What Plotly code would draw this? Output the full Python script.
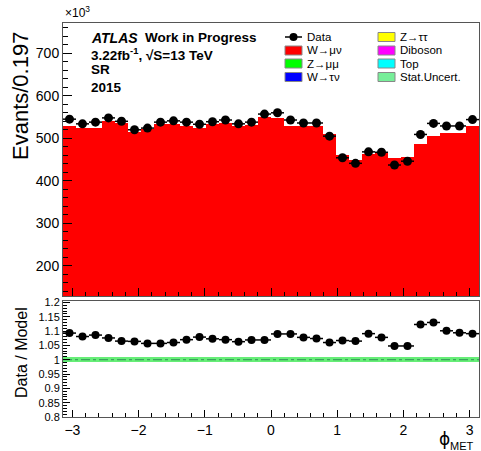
import numpy as np
import plotly.graph_objects as go

# ---- binning: 32 bins over [-pi, pi] ----
N_BINS = 32
x_lo, x_hi = -np.pi, np.pi
bin_w = (x_hi - x_lo) / N_BINS
centers = x_lo + bin_w * (np.arange(N_BINS) + 0.5)

# ---- event counts (x10^3) ----
data_counts = [545, 534, 538, 548, 540, 520, 524, 538, 541, 538, 533, 539, 543, 534, 538, 557,
               560, 543, 536, 536, 505, 454, 441, 468, 467, 437, 446, 509, 535, 529, 529, 544]
wmunu_counts = [530, 525, 525, 541, 535, 515, 521, 533, 534, 530, 524, 533, 535, 529, 531, 551,
                548, 530, 530, 530, 509, 461, 449, 462, 465, 453, 457, 486, 505, 512, 513, 530]

# ---- Data / Model ratio ----
ratio_vals = [1.093, 1.081, 1.086, 1.076, 1.065, 1.064, 1.057, 1.057, 1.060, 1.070, 1.079, 1.073,
              1.070, 1.063, 1.069, 1.069, 1.090, 1.090, 1.078, 1.074, 1.060, 1.067, 1.065, 1.091,
              1.078, 1.048, 1.048, 1.123, 1.130, 1.101, 1.094, 1.091]
stat_unc = [0.008] * N_BINS

legend_col1 = [("Data", None), ("W\u2192\u03bc\u03bd", "#ff0000"),
               ("Z\u2192\u03bc\u03bc", "#00ff00"), ("W\u2192\u03c4\u03bd", "#0000ff")]
legend_col2 = [("Z\u2192\u03c4\u03c4", "#ffff00"), ("Diboson", "#ff00ff"),
               ("Top", "#00ffff"), ("Stat.Uncert.", "#77ee99")]

# ---- canvas geometry (pixels) ----
W, H = 481, 451
L, R, T, B = 63, 2, 23, 34
PW, PH = W - L - R, H - T - B


def px(x):
    return (x - L) / PW


def py(y):
    return (H - B - y) / PH


FONT = "Liberation Sans, Arial, Helvetica, sans-serif"
FRAME = "#555555"

fig = go.Figure()

# stacked MC (W->munu dominates the stack)
fig.add_trace(go.Bar(x=centers, y=wmunu_counts, width=bin_w, marker=dict(color="#ff0000", line=dict(width=0)),
                     xaxis="x", yaxis="y", showlegend=False, hoverinfo="skip"))
# data points
fig.add_trace(go.Scatter(x=centers, y=data_counts, mode="markers",
                         marker=dict(color="black", size=9),
                         error_x=dict(type="constant", value=bin_w / 2, thickness=1.5, width=0, color="black"),
                         xaxis="x", yaxis="y", showlegend=False))

# ratio: stat band, reference line, data/model points
fig.add_trace(go.Bar(x=centers, y=[2 * u for u in stat_unc], base=[1 - u for u in stat_unc], width=bin_w,
                     marker=dict(color="#66ee77", line=dict(width=0)),
                     xaxis="x2", yaxis="y2", showlegend=False, hoverinfo="skip"))
fig.add_trace(go.Scatter(x=[x_lo, x_hi], y=[1, 1], mode="lines",
                         line=dict(color="#2f8f55", width=1, dash="dashdot"),
                         xaxis="x2", yaxis="y2", showlegend=False))
fig.add_trace(go.Scatter(x=centers, y=ratio_vals, mode="markers",
                         marker=dict(color="black", size=8),
                         error_x=dict(type="constant", value=bin_w / 2, thickness=1.5, width=0, color="black"),
                         xaxis="x2", yaxis="y2", showlegend=False))

axis_common = dict(showline=True, linecolor=FRAME, linewidth=1, mirror=True, showgrid=False,
                   zeroline=False, ticks="inside", tickcolor="black")

fig.update_layout(
    width=W, height=H,
    margin=dict(l=L, r=R, t=T, b=B, pad=0),
    paper_bgcolor="white", plot_bgcolor="white",
    barmode="overlay", bargap=0,
    font=dict(family=FONT, color="black"),
    xaxis=dict(axis_common, domain=[0, 1], anchor="y", range=[x_lo, x_hi], dtick=1, tick0=0,
               ticklen=8, showticklabels=False,
               minor=dict(dtick=0.2, tick0=0, ticklen=4, ticks="inside", tickcolor="black")),
    yaxis=dict(axis_common, domain=[py(296), 1], anchor="x", range=[128.5, 771.5], dtick=100, tick0=0,
               ticklen=9, tickfont=dict(size=14),
               minor=dict(dtick=20, ticklen=5, ticks="inside", tickcolor="black")),
    xaxis2=dict(axis_common, domain=[0, 1], anchor="y2", range=[x_lo, x_hi], dtick=1, tick0=0,
                ticklen=7, tickfont=dict(size=14),
                minor=dict(dtick=0.2, tick0=0, ticklen=4, ticks="inside", tickcolor="black")),
    yaxis2=dict(axis_common, domain=[0, py(301)], anchor="x2", range=[0.8, 1.205],
                tickvals=[0.8, 0.85, 0.9, 0.95, 1.0, 1.05, 1.1, 1.15, 1.2],
                ticktext=["0.8", "0.85", "0.9", "0.95", "1", "1.05", "1.1", "1.15", "1.2"],
                ticklen=7, tickfont=dict(size=11),
                minor=dict(dtick=0.01, tick0=0, ticklen=4, ticks="inside", tickcolor="black")),
)

ann = []
shapes = []


def text(x, y, s, size, xanchor="left", yanchor="middle", angle=0, family=FONT):
    ann.append(dict(x=px(x), y=py(y), xref="paper", yref="paper", text=s, showarrow=False,
                    xanchor=xanchor, yanchor=yanchor, textangle=angle,
                    font=dict(family=family, size=size, color="black")))


# axis titles
text(21, 96, "Evants/0.197", 22, xanchor="center", angle=-90)
text(21, 353, "Data / Model", 16, xanchor="center", angle=-90)
text(63, 12, "\u00d710<sup>3</sup>", 12)
text(452, 439, "\u03d5", 17, xanchor="right", family="DejaVu Sans")
text(476, 446, "MET", 11, xanchor="right")

# labels
text(89, 38, "<b><i>ATLAS</i></b>", 14)
text(143, 38, "<b>Work in Progress</b>", 13.5)
text(89, 54, "<b>3.22fb<sup>-1</sup>, \u221aS=13 TeV</b>", 13.5)
text(89, 70, "<b>SR</b>", 13.5)
text(89, 87, "<b>2015</b>", 13.5)

# legend
rows = [37, 50.5, 63.5, 77]
for (lab, col), yrow in zip(legend_col1, rows):
    if col is None:
        shapes.append(dict(type="line", xref="paper", yref="paper", x0=px(285), x1=px(302),
                           y0=py(yrow), y1=py(yrow), line=dict(color="black", width=1.5)))
        shapes.append(dict(type="circle", xref="paper", yref="paper", x0=px(289.5), x1=px(297.5),
                           y0=py(yrow + 4), y1=py(yrow - 4), fillcolor="black", line=dict(width=0)))
    else:
        shapes.append(dict(type="rect", xref="paper", yref="paper", x0=px(285), x1=px(302),
                           y0=py(yrow + 4.5), y1=py(yrow - 4.5), fillcolor=col,
                           line=dict(color="#888888", width=1)))
    text(305, yrow, lab, 11.5)
for (lab, col), yrow in zip(legend_col2, rows):
    shapes.append(dict(type="rect", xref="paper", yref="paper", x0=px(378), x1=px(395),
                       y0=py(yrow + 4.5), y1=py(yrow - 4.5), fillcolor=col,
                       line=dict(color="#888888", width=1)))
    text(398, yrow, lab, 11.5)

fig.update_layout(annotations=ann, shapes=shapes)
fig.write_html("out.html")
